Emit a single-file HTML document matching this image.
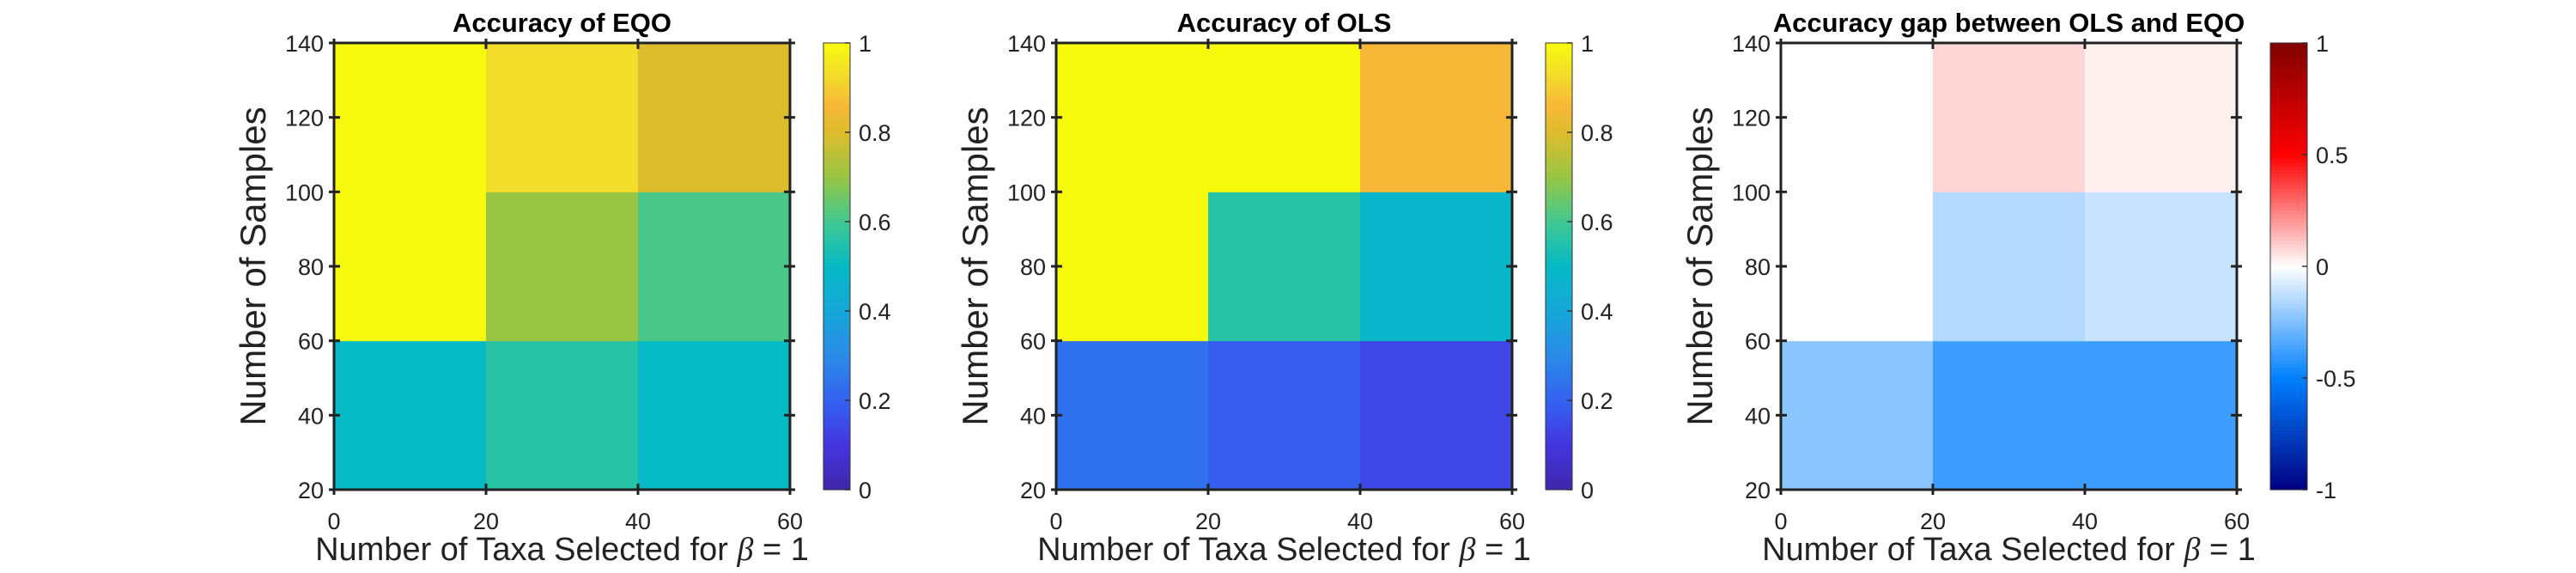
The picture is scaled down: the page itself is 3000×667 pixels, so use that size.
<!DOCTYPE html>
<html><head><meta charset="utf-8"><style>
html,body{margin:0;padding:0;background:#fff;}
svg{display:block;font-family:"Liberation Sans",sans-serif;}
</style></head><body>
<svg id="fig" width="3000" height="667" viewBox="0 0 3000 667" xmlns="http://www.w3.org/2000/svg"></svg>
<script>
// Data
const xEdges = [0, 20, 40, 60];
const yEdges = [20, 60, 100, 140];
const xTicks = [0, 20, 40, 60];
const yTicks = [20, 40, 60, 80, 100, 120, 140];
// rows from bottom (20-60) to top (100-140)
const eqoValues = [[0.5, 0.56, 0.5], [1.0, 0.7, 0.61], [1.0, 0.93, 0.8]];
const olsValues = [[0.24, 0.19, 0.14], [1.0, 0.56, 0.48], [1.0, 1.0, 0.86]];
const gapValues = [[-0.23, -0.38, -0.38], [0, -0.15, -0.11], [0, 0.08, 0.03]];
const seqTicks = [0, 0.2, 0.4, 0.6, 0.8, 1];
const seqTickLabels = ["0", "0.2", "0.4", "0.6", "0.8", "1"];
const divTicks = [-1, -0.5, 0, 0.5, 1];
const divTickLabels = ["-1", "-0.5", "0", "0.5", "1"];
const titles = ["Accuracy of EQO", "Accuracy of OLS", "Accuracy gap between OLS and EQO"];

const parula = [[0,'#3e26a8'],[0.1,'#4435e0'],[0.2,'#3462f0'],[0.3,'#2b8ae8'],[0.4,'#16a7d8'],[0.5,'#05b9c5'],[0.6,'#40c892'],[0.7,'#98c643'],[0.8,'#ddbc2d'],[0.86,'#f7b838'],[0.93,'#f2dd2a'],[1,'#f8fa0d']];
const bwr = [[-1,'#000080'],[-0.5,'#0080ff'],[0,'#ffffff'],[0.5,'#ff0000'],[1,'#800000']];
function hex(c){return [parseInt(c.slice(1,3),16),parseInt(c.slice(3,5),16),parseInt(c.slice(5,7),16)];}
function cmap(stops,v){
  if(v<=stops[0][0]) return stops[0][1];
  for(let i=1;i<stops.length;i++){
    if(v<=stops[i][0]){
      const t=(v-stops[i-1][0])/(stops[i][0]-stops[i-1][0]);
      const a=hex(stops[i-1][1]),b=hex(stops[i][1]);
      return 'rgb('+a.map((x,k)=>Math.round(x+(b[k]-x)*t)).join(',')+')';
    }
  }
  return stops[stops.length-1][1];
}
const NS='http://www.w3.org/2000/svg';
const svg=document.getElementById('fig');
function mk(tag,attrs,parent){const e=document.createElementNS(NS,tag);for(const k in attrs)e.setAttribute(k,attrs[k]);(parent||svg).appendChild(e);return e;}

const PX0=389, PW=531, PY0=50, PH=520, offsets=[0,841,1685];
const panels=[{v:eqoValues,cm:parula,t:seqTicks,tl:seqTickLabels,lo:0,hi:1},
              {v:olsValues,cm:parula,t:seqTicks,tl:seqTickLabels,lo:0,hi:1},
              {v:gapValues,cm:bwr,t:divTicks,tl:divTickLabels,lo:-1,hi:1}];
panels.forEach((p,pi)=>{
  const ox=PX0+offsets[pi];
  const g=mk('g',{});
  
  
  const sx=v=>ox+(v-xEdges[0])/(xEdges[xEdges.length-1]-xEdges[0])*PW;
  const sy=v=>PY0+PH-(v-yEdges[0])/(yEdges[yEdges.length-1]-yEdges[0])*PH;
  for(let r=0;r<yEdges.length-1;r++)for(let c=0;c<xEdges.length-1;c++){
    const x1=sx(xEdges[c]),x2=sx(xEdges[c+1]),y1=sy(yEdges[r+1]),y2=sy(yEdges[r]);
    const cell=mk('rect',{x:x1,y:y1,width:x2-x1+0.5,height:y2-y1+0.5,fill:cmap(p.cm,p.v[r][c])},g);
    
    
  }
  const box=mk('rect',{x:ox,y:PY0,width:PW,height:PH,fill:'none',stroke:'#222',"stroke-width":3},g);
  
  
  xTicks.forEach(t=>{
    const x=sx(t);
    mk('line',{x1:x,x2:x,y1:PY0+PH-7,y2:PY0+PH+6,stroke:'#222',"stroke-width":3},g);
    mk('line',{x1:x,x2:x,y1:PY0-5,y2:PY0+7,stroke:'#222',"stroke-width":3},g);
    const tx=mk('text',{x:x,y:616,"font-size":27,"text-anchor":"middle",fill:'#222'},g);
    tx.textContent=t;
    
    
  });
  yTicks.forEach(t=>{
    const y=sy(t);
    mk('line',{x1:ox-6,x2:ox+7,y1:y,y2:y,stroke:'#222',"stroke-width":3},g);
    mk('line',{x1:ox+PW-7,x2:ox+PW+6,y1:y,y2:y,stroke:'#222',"stroke-width":3},g);
    const tx=mk('text',{x:ox-12,y:y+10,"font-size":27,"text-anchor":"end",fill:'#222'},g);
    tx.textContent=t;
    
    
  });
  const title=mk('text',{x:ox+PW/2,y:37,"font-size":31,"font-weight":"bold","text-anchor":"middle",fill:'#000'},g);
  title.textContent=titles[pi];
  
  
  const xl=mk('text',{x:ox+PW/2,y:652,"font-size":38,"text-anchor":"middle",fill:'#222'},g);
  xl.innerHTML='Number of Taxa Selected for <tspan font-family="Liberation Serif,serif" font-style="italic">β</tspan> = 1';
  
  
  const yl=mk('text',{x:0,y:0,"font-size":42,"text-anchor":"middle",fill:'#222',transform:'translate('+(ox-80)+','+(PY0+PH/2)+') rotate(-90)'},g);
  yl.textContent='Number of Samples';
  
  
  // colorbar
  const cbx=ox+PW+39, cbw=pi==2?43:31;
  const cg=mk('g',{},g);
  
  
  const N=120;
  for(let i=0;i<N;i++){
    const v=p.lo+(p.hi-p.lo)*(i+0.5)/N;
    mk('rect',{x:cbx,y:PY0+PH-(i+1)*PH/N,width:cbw,height:PH/N+0.6,fill:cmap(p.cm,v)},cg);
  }
  mk('rect',{x:cbx,y:PY0,width:cbw,height:PH,fill:'none',stroke:'#333',"stroke-width":1},cg);
  p.t.forEach((t,i)=>{
    const y=PY0+PH-(t-p.lo)/(p.hi-p.lo)*PH;
    mk('line',{x1:cbx+cbw-6,x2:cbx+cbw,y1:y,y2:y,stroke:'#333',"stroke-width":1.5},cg);
    const tx=mk('text',{x:cbx+cbw+10,y:y+10,"font-size":27,fill:'#222'},cg);
    tx.textContent=p.tl[i];
    
    
  });
});
</script>
</body></html>
